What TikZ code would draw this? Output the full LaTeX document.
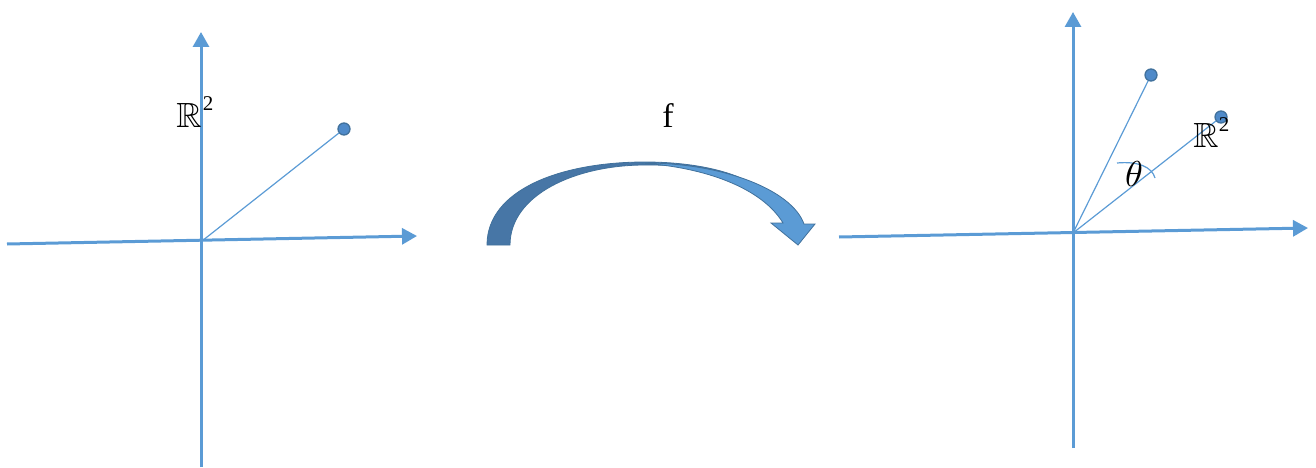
\documentclass[tikz,border=0pt]{standalone}
\usepackage{amssymb}
\usepackage{fontspec}
\setmainfont{Liberation Serif}
\usetikzlibrary{arrows.meta}
\definecolor{axblue}{HTML}{5B9BD5}
\definecolor{dkblue}{HTML}{41719C}
\definecolor{arrdark}{HTML}{4776A6}
\definecolor{dotfill}{HTML}{4F8AC9}
\begin{document}
\begin{tikzpicture}[x=1pt,y=-1pt,
  axis/.style={draw=axblue,line width=3pt,-{Triangle[length=15pt,width=16pt]}},
  ray/.style={draw=axblue,line width=1.2pt},
  dot/.style={circle,fill=dotfill,draw=dkblue,line width=1.3pt,minimum size=12pt,inner sep=0pt},
  lbl/.style={inner sep=0pt,text=black},
  bb/.style={lbl,scale=3.5},
  sup/.style={lbl,font=\fontsize{21}{24}\selectfont}]
\useasboundingbox (0,0) rectangle (1316,468);
% ---------- left plane
\coordinate (Lb) at (201,467);
\coordinate (Lt) at (201,32);
\coordinate (Ll) at (7,244);
\coordinate (Lr) at (417,236);
\coordinate (Lo) at (202,241);
\draw[axis] (Lb) -- (Lt);
\draw[axis] (Ll) -- (Lr);
\node[dot] (Lp) at (344,129) {};
\draw[ray] (Lo) -- (Lp);
\node[bb] (LR) at (189,115) {$\mathbb{R}$};
\node[sup] (L2) at (208,104) {2};
% ---------- curved arrow f
\node[lbl] (f) at (668,116) {\fontsize{34}{40}\selectfont f};
\fill[arrdark,draw=dkblue,line width=0.8pt]
  (487,245) .. controls (487,190) and (560,162) .. (645,162)
  .. controls (690,162) and (725,170) .. (745,180)
  .. controls (715,168) and (690,165) .. (645,165)
  .. controls (575,165) and (510,195) .. (510,245) -- cycle;
\fill[axblue,draw=dkblue,line width=0.8pt]
  (640,163) .. controls (722,162) and (792,190) .. (804,224)
  -- (815,224) -- (798,245) -- (771,223) -- (783,223)
  .. controls (762,188) and (705,167) .. (640,163) -- cycle;
% ---------- right plane
\coordinate (Rb) at (1073,448);
\coordinate (Rt) at (1073,12);
\coordinate (Rl) at (839,237);
\coordinate (Rr) at (1308,228);
\coordinate (Ro) at (1073,233);
\draw[axis] (Rb) -- (Rt);
\draw[axis] (Rl) -- (Rr);
\node[dot] (Rp1) at (1151,75) {};
\node[dot] (Rp2) at (1221,117) {};
\draw[ray] (Ro) -- (Rp1);
\draw[ray] (Ro) -- (Rp2);
\coordinate (A1) at (1117,163);
\coordinate (A2) at (1155,178);
\draw[ray] (A1) .. controls (1138,161) and (1152,167) .. (A2);
\node[lbl,scale=3.6] (th) at (1134,174) {$\theta$};
\node[bb] (RR) at (1206,135) {$\mathbb{R}$};
\node[sup] (R2) at (1224,125) {2};
\end{tikzpicture}
\end{document}
